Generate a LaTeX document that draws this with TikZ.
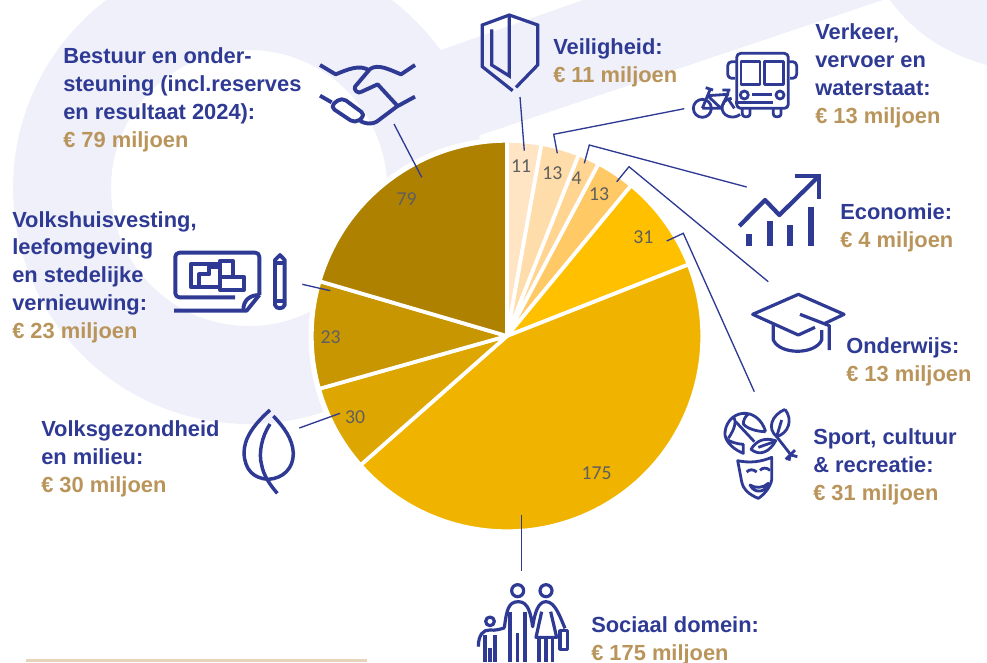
\documentclass[tikz,border=0pt]{standalone}
\usepackage{fontspec}
\setmainfont{Liberation Sans}
\newfontfamily\labelfont{Liberation Sans}
\newfontfamily\numfont{Carlito}
\definecolor{navy}{HTML}{2E3A93}
\definecolor{gold}{HTML}{B9955B}
\definecolor{bgl}{HTML}{EFF0F9}
\definecolor{numc}{HTML}{5F5F5F}
\definecolor{barc}{HTML}{E6D5BC}
\definecolor{sa}{HTML}{FFE5C4}
\definecolor{sb}{HTML}{FFDDAA}
\definecolor{sc}{HTML}{FFD591}
\definecolor{sd}{HTML}{FFCA66}
\definecolor{se}{HTML}{FFC000}
\definecolor{sf}{HTML}{F0B400}
\definecolor{sg}{HTML}{DDA600}
\definecolor{sh}{HTML}{C79600}
\definecolor{si}{HTML}{AF8100}
\newcommand{\gd}[1]{\textcolor{gold}{#1}}
\tikzset{
  capt/.style={anchor=base west,inner sep=0pt,align=left,text=navy,font=\labelfont\bfseries\fontsize{16.4}{20.8}\selectfont},
  num/.style={inner sep=0pt,text=numc,font=\numfont\fontsize{14.8}{16}\selectfont},
  leader/.style={draw=navy,line width=1pt,line join=miter},
  icon/.style={draw=navy,line width=2.4pt,line join=round,line cap=butt},
  iconthick/.style={icon,line width=2.9pt},
  iconthin/.style={icon,line width=2.1pt},
  slice/.style={draw=white,line width=2.8pt,line join=round},
}
\newcommand{\sect}[3]{\fill[slice,fill=#3] (0,0) -- (#1:195.2) arc[start angle=#1,end angle=#2,radius=195.2] -- cycle;}
\begin{document}
\begin{tikzpicture}[x=0.75pt,y=-0.75pt]
\useasboundingbox (0,0) rectangle (987,662);
\clip (0,0) rectangle (987,662);
% background
\fill[bgl,even odd rule] (249,188) circle[radius=236] (249,188) circle[radius=138];
\fill[bgl] (441,50) -- (583,0) -- (883,0) -- (430,152) -- (400,120) -- cycle;
\fill[bgl] (890,0) .. controls (915,35) and (950,55) .. (987,65) -- (987,0) -- cycle;
\fill[white] (507,336) circle[radius=198.5];
\fill[barc] (26,659) rectangle (367,662);
% pie
\begin{scope}[shift={(507,336)},x=0.75pt,y=0.75pt]
\sect{90}{79.8}{sa}
\sect{79.8}{68.4}{sb}
\sect{68.4}{62}{sc}
\sect{62}{50.5}{sd}
\sect{50.5}{21.5}{se}
\sect{21.5}{-138.6}{sf}
\sect{-138.6}{-164.3}{sg}
\sect{-164.3}{-196.3}{sh}
\sect{-196.3}{-270}{si}
\end{scope}
% value labels
\node[num] (n11) at (521,165.7) {11};
\node[num] (n13a) at (552.3,172.7) {13};
\node[num] (n4) at (576.7,177.7) {4};
\node[num] (n13b) at (599,194) {13};
\node[num] (n31) at (643.3,236.7) {31};
\node[num] (n175) at (596.7,473.3) {175};
\node[num] (n30) at (355,417.3) {30};
\node[num] (n23) at (330.7,336.7) {23};
\node[num] (n79) at (406.7,199.3) {79};
% captions
\node[capt] (bestuur) at (63,147) {Bestuur en onder-\\steuning (incl.reserves\\en resultaat 2024):\\\gd{€ 79 miljoen}};
\node[capt] (volkshuis) at (12,338) {Volkshuisvesting,\\leefomgeving\\en stedelijke\\vernieuwing:\\\gd{€ 23 miljoen}};
\node[capt] (volksgez) at (41,492) {Volksgezondheid\\en milieu:\\\gd{€ 30 miljoen}};
\node[capt] (veilig) at (553,82) {Veiligheid:\\\gd{€ 11 miljoen}};
\node[capt] (verkeer) at (815,123) {Verkeer,\\vervoer en\\waterstaat:\\\gd{€ 13 miljoen}};
\node[capt] (econ) at (840,247) {Economie:\\\gd{€ 4 miljoen}};
\node[capt] (onderw) at (846,381) {Onderwijs:\\\gd{€ 13 miljoen}};
\node[capt] (sport) at (813,500) {Sport, cultuur\\\& recreatie:\\\gd{€ 31 miljoen}};
\node[capt] (sociaal) at (591,660) {Sociaal domein:\\\gd{€ 175 miljoen}};
% leader end points
\coordinate (a1) at (520,97); \coordinate (a2) at (524.3,150.7);
\coordinate (b1) at (684.3,108.7); \coordinate (b2) at (553.7,134.3); \coordinate (b3) at (557.3,153.3);
\coordinate (c1) at (746.7,187); \coordinate (c2) at (589.3,145); \coordinate (c3) at (584.3,163.3);
\coordinate (d1) at (768.3,281.7); \coordinate (d2) at (629,166.7); \coordinate (d3) at (616.7,181.7);
\coordinate (e1) at (754.3,391.7); \coordinate (e2) at (683.3,233.3); \coordinate (e3) at (666.7,241);
\coordinate (f1) at (521.5,515); \coordinate (f2) at (521.5,570.7);
\coordinate (g1) at (299.3,428); \coordinate (g2) at (340,413.3);
\coordinate (h1) at (302.3,284.3); \coordinate (h2) at (330.3,290.7);
\coordinate (i1) at (394,124); \coordinate (i2) at (421.7,177.3);
\draw[leader] (a1) -- (a2);
\draw[leader] (b1) -- (b2) -- (b3);
\draw[leader] (c1) -- (c2) -- (c3);
\draw[leader] (d1) -- (d2) -- (d3);
\draw[leader] (e1) -- (e2) -- (e3);
\draw[leader] (f1) -- (f2);
\draw[leader] (g1) -- (g2);
\draw[leader] (h1) -- (h2);
\draw[leader] (i1) -- (i2);
% shield
\begin{scope}[shift={(440,0)},scale=1/3]
\draw[icon,line join=miter] (218,272) -- (127,200) -- (127,75) -- (208,45) -- (293,75) -- (293,195) -- (228,262);
\draw[icon,line join=miter] (208,45) -- (208,228) -- (155,195) -- (155,88);
\end{scope}
% bus and bicycle
\begin{scope}[shift={(685,45)},scale=1/3]
\draw[iconthin,rounded corners=3pt] (155,25) rectangle (310,190);
\draw[iconthin] (168,50) rectangle (225,118);
\draw[iconthin] (238,50) rectangle (295,118);
\draw[iconthin] (178,150) circle[radius=12];
\draw[iconthin] (285,150) circle[radius=12];
\draw[iconthin] (200,148) -- (262,148);
\draw[iconthin] (150,172) -- (265,172);
\draw[iconthin,rounded corners=2pt] (172,190) -- (172,215) -- (195,215) -- (195,190);
\draw[iconthin,rounded corners=2pt] (265,190) -- (265,215) -- (288,215) -- (288,190);
\draw[iconthin,rounded corners=3pt] (155,50) -- (128,50) -- (128,100) -- (150,100);
\draw[iconthin,rounded corners=3pt] (310,50) -- (335,50) -- (335,100) -- (315,100);
\draw[iconthin] (52,190) circle[radius=27];
\draw[iconthin] (140,160) .. controls (120,160) and (108,178) .. (112,195) .. controls (118,218) and (150,222) .. (165,208);
\draw[iconthin] (62,128) -- (84,135);
\draw[iconthin] (52,190) -- (76,132) (68,152) -- (128,148) (68,152) -- (108,190) -- (52,190);
\draw[iconthin] (108,190) -- (128,148) -- (130,135) (112,135) -- (136,135);
\draw[iconthin] (128,160) -- (148,190);
\end{scope}
% economy
\begin{scope}[shift={(700,160)},scale=1/3]
\draw[icon,line width=3.2pt] (118,198) -- (195,120) -- (238,165) -- (355,50);
\draw[icon,line width=3.2pt,line join=miter] (285,47) -- (358,47) -- (358,118);
\fill[navy] (138,222) rectangle (156,257);
\fill[navy] (201,183) rectangle (219,257);
\fill[navy] (261,195) rectangle (279,257);
\fill[navy] (324,141) rectangle (342,257);
% mortarboard
\draw[icon] (345,502) -- (295,525) -- (158,463) -- (295,403) -- (432,463) -- (375,490);
\draw[icon] (300,463) -- (388,497) -- (388,570);
\draw[icon] (220,495) -- (220,540) .. controls (240,585) and (345,585) .. (365,540) -- (365,510);
\end{scope}
% sport: ball, mask, leaves
\begin{scope}[shift={(715,400)},scale=1/3]
\draw[iconthin] (152,95) .. controls (140,55) and (110,38) .. (85,40) .. controls (50,42) and (28,75) .. (30,105) .. controls (34,130) and (60,150) .. (85,160) -- (85,133) .. controls (65,132) and (45,125) .. (35,118);
\draw[iconthin] (152,95) .. controls (125,95) and (95,85) .. (85,72) .. controls (85,60) and (90,50) .. (100,42);
\draw[iconthin] (55,48) .. controls (65,65) and (60,85) .. (40,115);
\draw[iconthin] (62,65) -- (118,125);
\draw[iconthin] (68,182) .. controls (105,190) and (140,185) .. (170,172) -- (170,240) .. controls (165,265) and (145,285) .. (130,295) .. controls (105,285) and (85,270) .. (80,245) -- cycle;
\draw[iconthin] (95,216) .. controls (103,207) and (115,207) .. (125,216);
\draw[iconthin] (135,211) .. controls (143,202) and (155,202) .. (165,211);
\draw[iconthin] (105,255) .. controls (120,265) and (145,265) .. (160,250) .. controls (155,275) and (120,285) .. cycle;
\draw[iconthin] (210,28) .. controls (170,45) and (155,85) .. (185,110) .. controls (220,100) and (235,60) .. (210,28);
\draw[iconthin] (200,60) -- (185,110) -- (228,165);
\draw[iconthin] (108,148) .. controls (125,120) and (150,112) .. (182,122) .. controls (165,155) and (135,170) .. cycle;
\draw[iconthin] (130,142) -- (178,125);
\draw[iconthin] (212,178) -- (240,150) (228,165) -- (247,170) (225,168) -- (222,182);
\end{scope}
% family
\begin{scope}[shift={(460,560)},scale=1/3]
\draw[icon] (173,92) circle[radius=18];
\draw[icon] (258,92) circle[radius=18];
\draw[icon] (90,184) circle[radius=13];
\draw[icon] (133,203) .. controls (140,150) and (145,125) .. (175,125) .. controls (205,125) and (212,160) .. (218,200) .. controls (225,155) and (235,125) .. (258,125) .. controls (285,125) and (300,170) .. (315,205);
\draw[icon] (150,155) -- (150,306) (173,220) -- (173,306) (195,155) -- (195,306);
\draw[icon] (245,155) -- (228,232) -- (290,232) -- (272,155);
\draw[icon] (237,232) -- (237,306) (258,232) -- (258,306) (278,232) -- (278,306);
\draw[icon] (300,212) rectangle (322,268);
\draw[icon] (55,260) .. controls (55,225) and (70,208) .. (90,210) .. controls (105,212) and (120,208) .. (135,203);
\draw[icon] (75,225) -- (75,306) (105,225) -- (105,306) (90,265) -- (90,306);
\end{scope}
% leaf
\begin{scope}[shift={(220,390)},scale=1/3]
\draw[icon,line width=2.6pt] (150,60) .. controls (100,105) and (72,145) .. (72,190) .. controls (75,240) and (100,265) .. (145,268) .. controls (190,265) and (220,235) .. (220,190) .. controls (218,145) and (190,110) .. (160,78);
\draw[icon,line width=2.6pt] (150,102) .. controls (125,140) and (115,190) .. (125,225) .. controls (130,255) and (150,285) .. (172,310);
\end{scope}
% handshake
\begin{scope}[shift={(315,55)},scale=1/3]
\draw[iconthick] (15,30) -- (62,58) .. controls (95,45) and (135,25) .. (165,48);
\draw[iconthick] (300,30) -- (258,58) .. controls (225,45) and (190,25) .. (165,42) -- (120,95) .. controls (115,105) and (130,118) .. (140,110) -- (188,88) -- (245,150);
\draw[iconthick] (300,125) -- (245,155) -- (185,200) .. controls (165,210) and (150,205) .. (135,198);
\draw[iconthick] (15,122) -- (50,142);
\draw[iconthick,rounded corners=4pt] (80,127) -- (152,180) -- (120,205) -- (45,155) -- cycle;
\end{scope}
% blueprint and pencil
\begin{scope}[shift={(150,40)},scale=1/3]
\draw[iconthick,rounded corners=3pt] (255,772) -- (76,772) -- (76,638) -- (328,638) -- (328,765);
\draw[iconthick] (328,765) -- (290,812) -- (72,812);
\draw[iconthick] (328,765) .. controls (300,765) and (280,780) .. (280,810);
\draw[iconthick] (210,740) -- (122,740) -- (122,672) -- (210,672);
\draw[iconthick] (210,662) rectangle (248,710);
\draw[iconthick] (210,710) rectangle (282,750);
\draw[iconthick] (147,740) -- (147,703) -- (178,703) -- (178,680) -- (210,680);
\draw[iconthick] (375,660) -- (390,645) -- (404,660) -- (404,795) .. controls (400,808) and (378,808) .. (375,795) -- cycle;
\draw[iconthick] (375,668) -- (404,668) (375,782) -- (404,782);
\end{scope}
\end{tikzpicture}
\end{document}
